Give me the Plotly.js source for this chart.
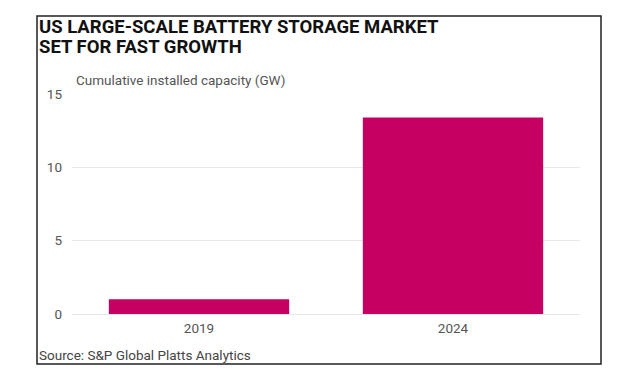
<!DOCTYPE html>
<html>
<head>
<meta charset="utf-8">
<script src="https://cdn.plot.ly/plotly-3.0.1.min.js"></script>
<style>html,body{margin:0;padding:0;background:#fff;}#chart{width:638px;height:383px;}</style>
</head>
<body>
<div id="chart"></div>
<script>
const years = ['2019', '2024'];
const capacityGW = [1.0, 13.4];
const yTicks = [0, 5, 10, 15];
const titleLines = ['US LARGE-SCALE BATTERY STORAGE MARKET', 'SET FOR FAST GROWTH'];
const yTitle = 'Cumulative installed capacity (GW)';
const sourceText = 'Source: S&P Global Platts Analytics';

const L = 72, R = 58, T = 94, B = 69;
const PW = 638 - L - R, PH = 383 - T - B;
const px = v => (v - L) / PW;
const py = v => (383 - B - v) / PH;

const trace = {
  type: 'bar',
  x: years,
  y: capacityGW,
  marker: {color: '#c60062'},
  hoverinfo: 'x+y'
};

const titleFont = {family: 'Roboto, sans-serif', size: 18.5, color: '#111', weight: 'bold'};

const layout = {
  width: 638, height: 383,
  margin: {l: L, r: R, t: T, b: B},
  paper_bgcolor: '#fff', plot_bgcolor: '#fff',
  showlegend: false,
  bargap: 0.29,
  font: {family: 'Roboto, sans-serif', color: '#555'},
  xaxis: {
    type: 'category',
    range: [-0.5, 1.5],
    showgrid: false, zeroline: false, showline: false,
    ticks: '',
    ticklabelstandoff: 4,
    tickfont: {size: 13.5, color: '#555'}
  },
  yaxis: {
    range: [0, 15],
    tickvals: yTicks,
    showgrid: true, gridcolor: '#e8e8e8', gridwidth: 1,
    zeroline: true, zerolinecolor: '#e8e8e8', zerolinewidth: 1,
    showline: false, ticks: '',
    ticklabelstandoff: 9,
    tickfont: {size: 13.5, color: '#555'}
  },
  annotations: [
    {text: titleLines[0], xref: 'paper', yref: 'paper', x: px(37), y: py(27),
     xanchor: 'left', yanchor: 'middle', showarrow: false, font: titleFont},
    {text: titleLines[1], xref: 'paper', yref: 'paper', x: px(37), y: py(47.5),
     xanchor: 'left', yanchor: 'middle', showarrow: false, font: titleFont},
    {text: yTitle, xref: 'paper', yref: 'paper', x: px(74), y: py(80),
     xanchor: 'left', yanchor: 'middle', showarrow: false,
     font: {size: 13.5, color: '#555'}},
    {text: sourceText, xref: 'paper', yref: 'paper', x: px(37), y: py(355),
     xanchor: 'left', yanchor: 'middle', showarrow: false,
     font: {size: 13.5, color: '#444'}}
  ],
  shapes: [
    {type: 'rect', xref: 'paper', yref: 'paper',
     x0: px(37), x1: px(601), y0: py(364), y1: py(16),
     line: {color: '#222', width: 1.5}, fillcolor: 'rgba(0,0,0,0)', layer: 'above'}
  ]
};

Plotly.newPlot('chart', [trace], layout, {displayModeBar: false, staticPlot: true});
</script>
</body>
</html>
